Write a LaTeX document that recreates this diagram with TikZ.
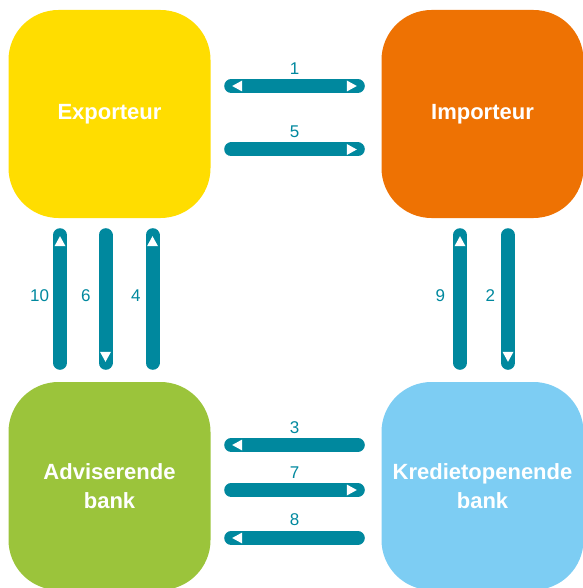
\documentclass[tikz,border=0pt]{standalone}
\usepackage{fontspec}
\setmainfont{Liberation Sans}
\usetikzlibrary{calc,decorations.markings}

\definecolor{exportyellow}{RGB}{255,221,0}
\definecolor{importorange}{RGB}{238,114,3}
\definecolor{advgreen}{RGB}{155,196,59}
\definecolor{credblue}{RGB}{125,205,243}
\definecolor{linkteal}{RGB}{0,136,158}

\tikzset{
  party/.style={rounded corners=50pt, minimum width=202pt, minimum height=208pt,
    inner sep=0pt, text=white, align=center,
    font=\bfseries\fontsize{22}{29}\selectfont},
  bar/.style={draw=linkteal, line width=14pt, line cap=round},
  headend/.style={postaction={decorate, decoration={markings,
    mark=at position 1 with {\fill[white] (-1pt,0pt) -- (-11pt,5.5pt) -- (-11pt,-5.5pt) -- cycle;}}}},
  headstart/.style={postaction={decorate, decoration={markings,
    mark=at position 0 with {\fill[white] (1pt,0pt) -- (11pt,5.5pt) -- (11pt,-5.5pt) -- cycle;}}}},
  stepno/.style={text=linkteal, inner sep=0pt, font=\fontsize{17}{17}\selectfont}
}

\begin{document}
\begin{tikzpicture}[x=1pt,y=-1pt]
    \useasboundingbox (0,0) rectangle (582,588);

    % Parties
    \node[party, fill=exportyellow] (exp) at (109.5,114) {Exporteur};
    \node[party, fill=importorange] (imp) at (482.5,114) {Importeur};
    \node[party, fill=advgreen] (adv) at (109.5,486) {Adviserende\\bank};
    \node[party, fill=credblue] (kred) at (482.5,486) {Kredietopenende\\bank};

    % Exporteur -- Importeur
    \draw[bar, headstart, headend] ($(exp.east)+(20.5,-28)$) -- ($(imp.west)+(-23.5,-28)$)
        node[stepno, midway, above=4.5pt] {1};
    \draw[bar, headend] ($(exp.east)+(20.5,35.5)$) -- ($(imp.west)+(-23.5,35.5)$)
        node[stepno, midway, above=4.5pt] {5};

    % Adviserende bank -- Kredietopenende bank
    \draw[bar, headstart] ($(adv.east)+(20.5,-41)$) -- ($(kred.west)+(-23.5,-41)$)
        node[stepno, midway, above=4.5pt] {3};
    \draw[bar, headend] ($(adv.east)+(20.5,4)$) -- ($(kred.west)+(-23.5,4)$)
        node[stepno, midway, above=4.5pt] {7};
    \draw[bar, headstart] ($(adv.east)+(20.5,52)$) -- ($(kred.west)+(-23.5,52)$)
        node[stepno, midway, above=5pt] {8};

    % Exporteur -- Adviserende bank
    \draw[bar, headstart] ($(exp.south)+(-49.5,17)$) -- ($(adv.north)+(-49.5,-19)$)
        node[stepno, pos=0.47, left=4pt] {10};
    \draw[bar, headend] ($(exp.south)+(-4,17)$) -- ($(adv.north)+(-4,-19)$)
        node[stepno, pos=0.47, left=8pt] {6};
    \draw[bar, headstart] ($(exp.south)+(43,17)$) -- ($(adv.north)+(43,-19)$)
        node[stepno, pos=0.47, left=5pt] {4};

    % Importeur -- Kredietopenende bank
    \draw[bar, headstart] ($(imp.south)+(-22.5,17)$) -- ($(kred.north)+(-22.5,-19)$)
        node[stepno, pos=0.47, left=8pt] {9};
    \draw[bar, headend] ($(imp.south)+(25.5,17)$) -- ($(kred.north)+(25.5,-19)$)
        node[stepno, pos=0.47, left=6pt] {2};
\end{tikzpicture}
\end{document}
